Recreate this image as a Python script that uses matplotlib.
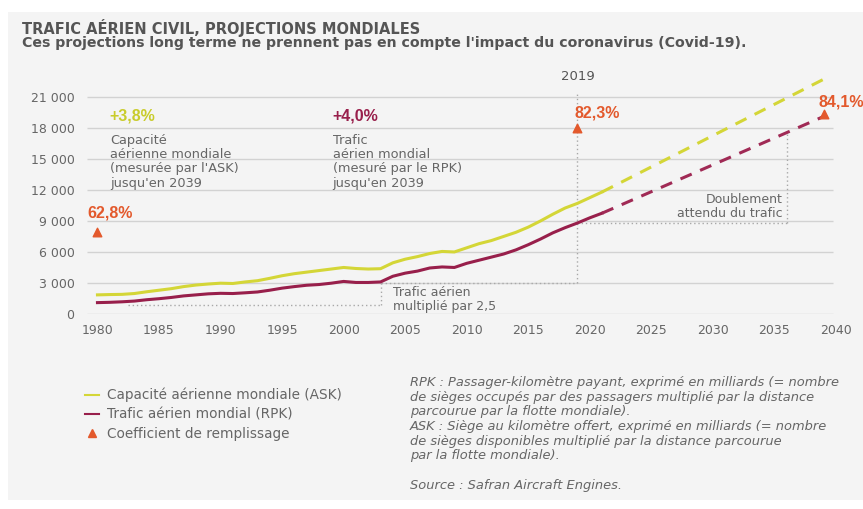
import matplotlib
matplotlib.use("Agg")
import matplotlib.pyplot as plt
from matplotlib.patches import Rectangle
from matplotlib.lines import Line2D

# data (milliards)
years = list(range(1980, 2022))
ask = [1850, 1880, 1900, 1980, 2150, 2300, 2450, 2650, 2800, 2900,
       2980, 2950, 3100, 3220, 3450, 3700, 3900, 4050, 4200, 4350,
       4500, 4400, 4350, 4380, 4950, 5300, 5550, 5850, 6050, 6000,
       6400, 6800, 7100, 7500, 7900, 8400, 9000, 9650, 10250, 10700,
       11250, 11800]
rpk = [1100, 1130, 1180, 1250, 1380, 1480, 1600, 1750, 1850, 1950,
       2000, 1980, 2050, 2130, 2300, 2500, 2650, 2780, 2850, 2980,
       3150, 3050, 3050, 3100, 3650, 3950, 4150, 4450, 4550, 4500,
       4900, 5200, 5500, 5800, 6200, 6700, 7250, 7850, 8350, 8800,
       9300, 9750]
proj_years = [2021, 2039]
ask_proj = [11800, 22700]
rpk_proj = [9750, 19100]

load_years = [1980, 2019, 2039]
load_y = [7950, 18000, 19350]
load_labels = ["62,8%", "82,3%", "84,1%"]

yticks = [0, 3000, 6000, 9000, 12000, 15000, 18000, 21000]
ytick_labels = ["0", "3 000", "6 000", "9 000", "12 000", "15 000", "18 000", "21 000"]
xticks = list(range(1980, 2041, 5))

YELLOW = "#d4d637"
MAROON = "#981f4b"
ORANGE = "#e3592c"
GREY = "#666666"
DOT = "#a8a8a8"
NARROW = ["Liberation Sans", "DejaVu Sans"]

fig = plt.figure(figsize=(8.63, 5.09), dpi=100)
fig.patch.set_facecolor("white")
fig.patches.append(Rectangle((8 / 863, 9 / 509), 1, 488 / 509, transform=fig.transFigure,
                             facecolor="#f4f4f4", edgecolor="none", zorder=-5))

ax = fig.add_axes([87 / 863, (509 - 314) / 509, 760 / 863, 243 / 509])
ax.set_zorder(2)
ax.set_facecolor("none")
ax.set_xlim(1979.15, 2040.9)
ax.set_ylim(0, 23500)
for s in ax.spines.values():
    s.set_visible(False)

ax.hlines(yticks, 1979.15, 2039.8, color="#d2d2d2", lw=1, zorder=1)
ax.set_yticks(yticks)
ax.set_yticklabels(ytick_labels)
ax.set_xticks(xticks)
ax.tick_params(length=0, labelsize=9, labelcolor=GREY)
ax.tick_params(axis="y", pad=9)
ax.tick_params(axis="x", pad=7)

# guide lines
dot = dict(color=DOT, lw=1, ls=(0, (1, 2)), zorder=2)
ax.plot([1982.5, 2003], [900, 900], **dot)
ax.plot([2003, 2003], [900, 3000], **dot)
ax.plot([2003, 2019], [3000, 3000], **dot)
ax.plot([2019, 2019], [3000, 21400], **dot)
ax.plot([2019, 2036], [8800, 8800], **dot)
ax.plot([2036, 2036], [8800, 17600], **dot)

# series
ax.plot(years, ask, color=YELLOW, lw=2.2, zorder=3)
ax.plot(years, rpk, color=MAROON, lw=2.2, zorder=3)
ax.plot(proj_years, ask_proj, color=YELLOW, lw=2.2, dashes=(4, 3), zorder=3)
ax.plot(proj_years, rpk_proj, color="#a02a55", lw=2.2, dashes=(4, 3), zorder=3)

ax.scatter(load_years, load_y, marker="^", s=38, color=ORANGE, zorder=4, clip_on=False)
for x, y, t in zip([1979.2, 2018.8, 2038.6], [9770, 19450, 20500], load_labels):
    ax.text(x, y, t, color=ORANGE, fontsize=11.5, fontweight="bold", family=NARROW,
            va="center", ha="left", clip_on=False)

# annotations
ax.text(1981.0, 19160, "+3,8%", color="#c9cc2c", fontsize=11.5, fontweight="bold",
        family=NARROW, va="center")
ax.text(1981.0, 17400, "Capacité\naérienne mondiale\n(mesurée par l'ASK)\njusqu'en 2039",
        color=GREY, fontsize=9.3, va="top", linespacing=1.12)
ax.text(1999.1, 19160, "+4,0%", color=MAROON, fontsize=11.5, fontweight="bold",
        family=NARROW, va="center")
ax.text(1999.1, 17400, "Trafic\naérien mondial\n(mesuré par le RPK)\njusqu'en 2039",
        color=GREY, fontsize=9.3, va="top", linespacing=1.12)
ax.text(2019.05, 22935, "2019", color="#555555", fontsize=9.5, ha="center", va="center")
ax.text(2035.65, 10350, "Doublement\nattendu du trafic", color=GREY, fontsize=9,
        ha="right", va="center", linespacing=1.1)
ax.text(2004.0, 1355, "Trafic aérien\nmultiplié par 2,5", color=GREY, fontsize=9,
        ha="left", va="center", linespacing=1.1)

# titles
fig.text(22 / 863, 1 - 28 / 509, "TRAFIC AÉRIEN CIVIL, PROJECTIONS MONDIALES",
         color="#555555", fontsize=10.5, fontweight="bold", va="center")
fig.text(22 / 863, 1 - 43 / 509,
         "Ces projections long terme ne prennent pas en compte l'impact du coronavirus (Covid-19).",
         color="#555555", fontsize=10.2, fontweight="bold", va="center")

# legend
h1 = Line2D([], [], color=YELLOW, lw=1.5)
h2 = Line2D([], [], color=MAROON, lw=1.5)
h3 = Line2D([], [], color=ORANGE, marker="^", ls="none", markersize=6)
fig.legend([h1, h2, h3],
           ["Capacité aérienne mondiale (ASK)", "Trafic aérien mondial (RPK)",
            "Coefficient de remplissage"],
           loc="upper left", bbox_to_anchor=(85 / 863, 1 - 388 / 509),
           frameon=False, fontsize=9.8, labelcolor=GREY, handlelength=1.0,
           handletextpad=0.6, labelspacing=0.38, borderpad=0, borderaxespad=0)

notes = ("RPK : Passager-kilomètre payant, exprimé en milliards (= nombre\n"
         "de sièges occupés par des passagers multiplié par la distance\n"
         "parcourue par la flotte mondiale).\n"
         "ASK : Siège au kilomètre offert, exprimé en milliards (= nombre\n"
         "de sièges disponibles multiplié par la distance parcourue\n"
         "par la flotte mondiale).")
fig.text(410 / 863, 1 - 376 / 509, notes, color=GREY, fontsize=9.4, style="italic",
         va="top", ha="left", linespacing=1.17)
fig.text(410 / 863, 1 - 485 / 509, "Source : Safran Aircraft Engines.", color=GREY,
         fontsize=9.4, style="italic", va="center", ha="left")

fig.savefig("out.png", dpi=100)
